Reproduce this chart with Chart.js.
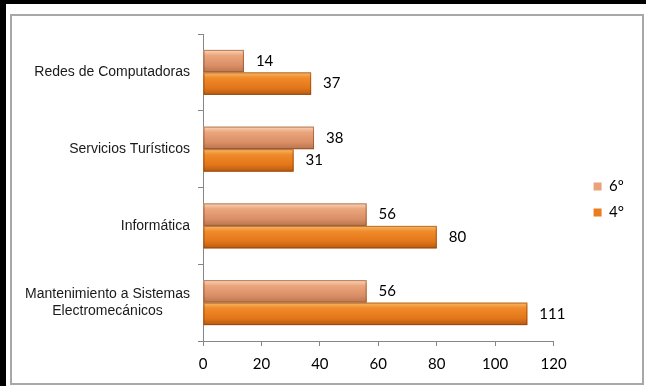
<!DOCTYPE html>
<html>
<head>
<meta charset="utf-8">
<script src="https://cdn.jsdelivr.net/npm/chart.js@4.4.1/dist/chart.umd.min.js"></script>
<style>
    html, body { margin: 0; padding: 0; background: #000; }
    #outer { position: absolute; left: 6px; top: 4px; width: 640px; height: 382px; background: #fff; }
    #frame { position: absolute; left: 10px; top: 14px; width: 630px; height: 367px; border: 2px solid #a8a8a8; background: #fff; }
    canvas { display: block; }
</style>
</head>
<body>
<div id="outer"></div>
<div id="frame"><canvas id="myChart" width="630" height="367"></canvas></div>
<script>
// categorías (de arriba hacia abajo) y valores de cada serie
var categorias = ['Redes de Computadoras', 'Servicios Turísticos', 'Informática', ['Mantenimiento a Sistemas', 'Electromecánicos       ']];
var serie6 = [14, 38, 56, 56];
var serie4 = [37, 31, 80, 111];
var ticksX = [0, 20, 40, 60, 80, 100, 120];

var fuenteNum = 'Lato, "Open Sans", sans-serif';

// relleno tipo 3D de las barras
var barras3d = {
    id: 'barras3d',
    afterDatasetsDraw(chart) {
        var ctx = chart.ctx;
        var tonos = [
            ['#fbd6bb', '#eba57c', '#d98e66', '#b9744f'],
            ['#f9b965', '#f08a2a', '#e27619', '#b65a12']
        ];
        chart.data.datasets.forEach(function (ds, i) {
            var meta = chart.getDatasetMeta(i);
            var t = tonos[i];
            meta.data.forEach(function (bar) {
                var p = bar.getProps(['x', 'y', 'base', 'height'], true);
                var top = p.y - p.height / 2;
                var g = ctx.createLinearGradient(0, top, 0, top + p.height);
                g.addColorStop(0, t[0]);
                g.addColorStop(0.25, t[1]);
                g.addColorStop(0.7, t[2]);
                g.addColorStop(1, t[3]);
                ctx.save();
                ctx.fillStyle = g;
                ctx.fillRect(p.base, top, p.x - p.base, p.height);
                ctx.strokeStyle = 'rgba(120,60,20,0.55)';
                ctx.lineWidth = 1;
                ctx.strokeRect(p.base + 0.5, top + 0.5, p.x - p.base - 1, p.height - 1);
                ctx.restore();
            });
        });
    }
};

// etiquetas de valor al final de cada barra
var etiquetas = {
    id: 'etiquetas',
    afterDatasetsDraw(chart) {
        var ctx = chart.ctx;
        ctx.save();
        ctx.font = '15px ' + fuenteNum;
        ctx.fillStyle = '#000';
        ctx.textAlign = 'left';
        ctx.textBaseline = 'middle';
        chart.data.datasets.forEach(function (ds, i) {
            var meta = chart.getDatasetMeta(i);
            meta.data.forEach(function (bar, j) {
                ctx.fillText(String(ds.data[j]), bar.x + 12, bar.y);
            });
        });
        ctx.restore();
    }
};

// mover la leyenda un poco (como en el original)
var moverLeyenda = {
    id: 'moverLeyenda',
    afterLayout(chart) {
        var lg = chart.legend;
        lg.left += 29; lg.right += 29;
        lg.top -= 9; lg.bottom -= 9;
    }
};

function sinPadding(axis) {
    axis.paddingTop = 0;
    axis.paddingBottom = 0;
    axis.paddingLeft = 0;
    axis.paddingRight = 0;
}

window.onload = function () {
    var ctx = document.getElementById('myChart').getContext('2d');
    new Chart(ctx, {
        type: 'bar',
        data: {
            labels: categorias,
            datasets: [{
                label: '6º',
                data: serie6,
                backgroundColor: '#e9a27a',
                borderWidth: 0
            }, {
                label: '4°',
                data: serie4,
                backgroundColor: '#ea7d22',
                borderWidth: 0
            }]
        },
        options: {
            indexAxis: 'y',
            responsive: false,
            animation: false,
            categoryPercentage: 0.586,
            barPercentage: 1,
            layout: {
                padding: { left: 0, top: 18, right: 37, bottom: 0 }
            },
            plugins: {
                tooltip: { enabled: false },
                legend: {
                    position: 'right',
                    labels: {
                        boxWidth: 8,
                        boxHeight: 8,
                        padding: 11,
                        color: '#000',
                        font: { family: fuenteNum, size: 15 }
                    }
                }
            },
            scales: {
                x: {
                    min: 0,
                    max: 120,
                    afterBuildTicks: function (axis) {
                        axis.ticks = ticksX.map(function (v) { return { value: v }; });
                    },
                    afterFit: function (axis) { axis.height = 42; sinPadding(axis); },
                    border: { color: '#868686', width: 1 },
                    grid: { drawOnChartArea: false, drawTicks: true, tickLength: 5, color: '#868686' },
                    ticks: { color: '#000', padding: 9, font: { family: fuenteNum, size: 15 } }
                },
                y: {
                    afterFit: function (axis) { axis.width = 191; sinPadding(axis); },
                    border: { color: '#868686', width: 1 },
                    grid: { drawOnChartArea: false, drawTicks: true, tickLength: 5, color: '#868686', offset: true },
                    ticks: { color: '#1a1a1a', padding: 8, font: { family: '"Liberation Sans", Arial, sans-serif', size: 14 } }
                }
            }
        },
        plugins: [barras3d, etiquetas, moverLeyenda]
    });
};
</script>
</body>
</html>
